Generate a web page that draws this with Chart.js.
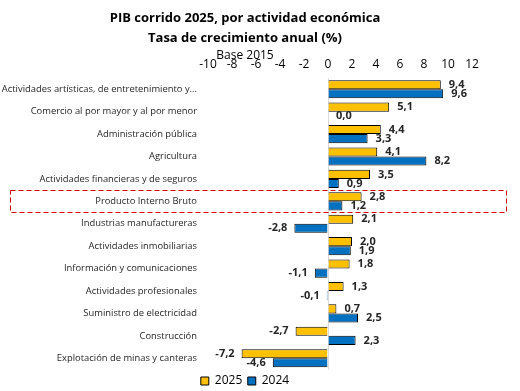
<!DOCTYPE html>
<html>
<head>
<meta charset="utf-8">
<script src="https://cdn.jsdelivr.net/npm/chart.js@4"></script>
<style>
  html, body { margin: 0; padding: 0; background: #fff; }
  #wrap { width: 520px; height: 391px; }
</style>
</head>
<body>
<div id="wrap"><canvas id="pibChart"></canvas></div>
<script>
// categorias y tasas de crecimiento (%)
var categorias = [
	'Actividades artísticas, de entretenimiento y...',
	'Comercio al por mayor y al por menor',
	'Administración pública',
	'Agricultura',
	'Actividades financieras y de seguros',
	'Producto Interno Bruto',
	'Industrias manufactureras',
	'Actividades inmobiliarias',
	'Información y comunicaciones',
	'Actividades profesionales',
	'Suministro de electricidad',
	'Construcción',
	'Explotación de minas y canteras'
];
var serie2025 = [9.4, 5.1, 4.4, 4.1, 3.5, 2.8, 2.1, 2.0, 1.8, 1.3, 0.7, -2.7, -7.2];
var serie2024 = [9.6, 0.0, 3.3, 8.2, 0.9, 1.2, -2.8, 1.9, -1.1, -0.1, 2.5, 2.3, -4.6];
var ejeMin = -10, ejeMax = 12, ejePaso = 2;
var filaDestacada = 'Producto Interno Bruto';

var fuente = "'Open Sans', 'Noto Sans', sans-serif";
Chart.defaults.font.family = fuente;
Chart.defaults.color = '#000';

// etiquetas de datos al final de cada barra
var etiquetasPlugin = {
	id: 'etiquetas',
	afterDatasetsDraw: function(chart) {
		var ctx = chart.ctx;
		ctx.save();
		ctx.font = 'bold 11px ' + fuente;
		ctx.fillStyle = '#262626';
		ctx.textBaseline = 'middle';
		chart.data.datasets.forEach(function(ds, i) {
			chart.getDatasetMeta(i).data.forEach(function(el, j) {
				var v = ds.data[j];
				var txt = v.toFixed(1).replace('.', ',');
				if (v >= 0) {
					ctx.textAlign = 'left';
					ctx.fillText(txt, el.x + 8, el.y);
				} else {
					ctx.textAlign = 'right';
					ctx.fillText(txt, el.x - 7, el.y);
				}
			});
		});
		ctx.restore();
	}
};

// recuadro punteado sobre la fila del PIB
var recuadroPlugin = {
	id: 'recuadro',
	afterDraw: function(chart) {
		var y = chart.scales.y;
		var idx = categorias.indexOf(filaDestacada);
		var banda = y.getPixelForValue(1) - y.getPixelForValue(0);
		var centro = y.getPixelForValue(idx);
		var ctx = chart.ctx;
		ctx.save();
		ctx.strokeStyle = '#d00000';
		ctx.lineWidth = 1;
		ctx.setLineDash([5, 3]);
		ctx.strokeRect(10.5, Math.round(centro - banda / 2) + 0.5, 496, Math.round(banda));
		ctx.restore();
	}
};

new Chart(document.getElementById('pibChart'), {
	type: 'bar',
	data: {
		labels: categorias,
		datasets: [{
			label: '2025',
			data: serie2025,
			backgroundColor: '#FFC000',
			borderColor: '#000',
			borderWidth: 1,
			categoryPercentage: 0.81,
			barPercentage: 1.0
		}, {
			label: '2024',
			data: serie2024,
			backgroundColor: '#0070C0',
			borderColor: '#000',
			borderWidth: 1,
			categoryPercentage: 0.81,
			barPercentage: 1.0
		}]
	},
	options: {
		indexAxis: 'y',
		responsive: true,
		maintainAspectRatio: false,
		animation: false,
		layout: { padding: { left: 0, right: 30, top: 8, bottom: -6 } },
		scales: {
			x: {
				position: 'top',
				min: ejeMin,
				max: ejeMax,
				afterFit: function(scale) { scale.paddingRight = 48; },
				ticks: { stepSize: ejePaso, font: { size: 12 }, color: '#000', padding: 5.8 },
				grid: {
					drawTicks: false,
					color: function(c) { return c.tick && c.tick.value === 0 ? '#d9d9d9' : 'rgba(0,0,0,0)'; }
				},
				border: { display: false }
			},
			y: {
				afterFit: function(scale) { scale.width = 208; },
				ticks: { font: { size: 9.4 }, color: '#262626', padding: 11 },
				grid: { display: false, drawTicks: false },
				border: { display: false }
			}
		},
		plugins: {
			title: {
				display: true,
				text: ['PIB corrido 2025, por actividad económica', 'Tasa de crecimiento anual (%)'],
				font: { size: 13, weight: 'bold', lineHeight: 1.5 },
				color: '#000',
				padding: { top: 1, bottom: -10 }
			},
			subtitle: {
				display: true,
				text: 'Base 2015',
				font: { size: 12, lineHeight: 1.2 },
				color: '#000',
				padding: { top: 10.8, bottom: -11.2 }
			},
			legend: {
				position: 'bottom',
				labels: { boxWidth: 8, boxHeight: 8, padding: 5.5, font: { size: 12 }, color: '#000' }
			},
			tooltip: { enabled: false }
		}
	},
	plugins: [etiquetasPlugin, recuadroPlugin]
});
</script>
</body>
</html>
